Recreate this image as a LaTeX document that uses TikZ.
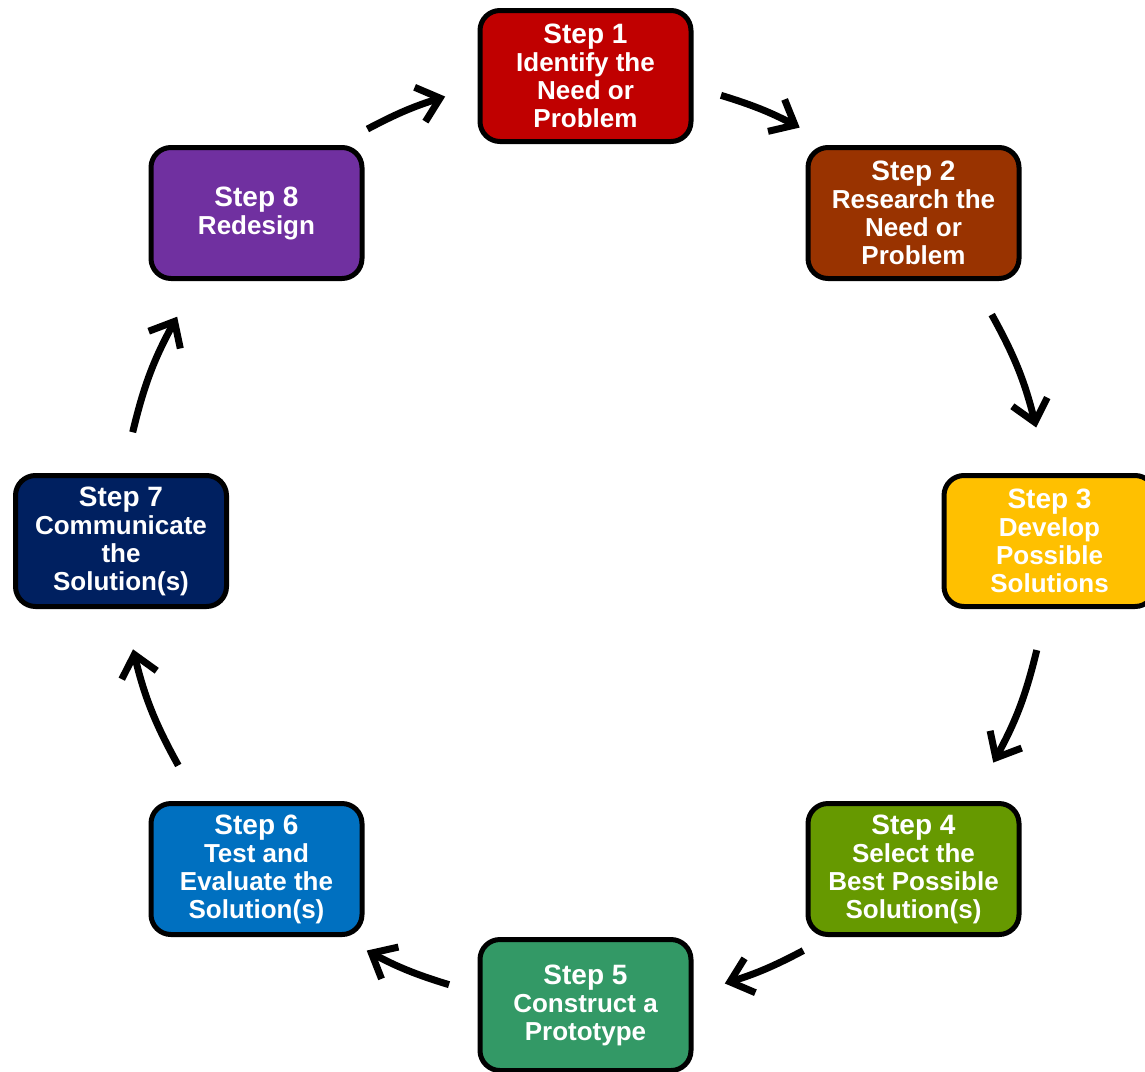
\documentclass[tikz,border=0pt]{standalone}
\usepackage{fontspec}
\setmainfont{Liberation Sans}
\usetikzlibrary{arrows.meta}
\definecolor{cOne}{HTML}{C00000}
\definecolor{cTwo}{HTML}{993300}
\definecolor{cThree}{HTML}{FFC000}
\definecolor{cFour}{HTML}{669900}
\definecolor{cFive}{HTML}{339966}
\definecolor{cSix}{HTML}{0070C0}
\definecolor{cSeven}{HTML}{002060}
\definecolor{cEight}{HTML}{7030A0}
\newcommand{\stephead}[1]{{\fontsize{28}{28}\selectfont #1}}
\tikzset{
  stepbox/.style={draw=black, line width=5pt, rounded corners=20pt,
    minimum width=211pt, minimum height=131pt, text=white, align=center,
    font=\bfseries\fontsize{26}{28}\selectfont, inner sep=0pt},
  cyc/.style={line width=7pt, draw=black,
    -{Straight Barb[length=21pt,width=36pt,line width=7pt]}}
}
\begin{document}
\begin{tikzpicture}[x=1pt,y=1pt]
\useasboundingbox (0,0) rectangle (1145,-1071);
\fill[white] (0,0) rectangle (1145,-1071);
\coordinate (c) at (585,-540);
\node[stepbox, fill=cOne]   (s1) at (585.5,-76) {\stephead{Step 1}\\Identify the\\Need or\\Problem};
\node[stepbox, fill=cTwo]   (s2) at (913.5,-213) {\stephead{Step 2}\\Research the\\Need or\\Problem};
\node[stepbox, fill=cThree] (s3) at (1049.5,-541) {\stephead{Step 3}\\Develop\\Possible\\Solutions};
\node[stepbox, fill=cFour]  (s4) at (913.5,-869) {\stephead{Step 4}\\Select the\\Best Possible\\Solution(s)};
\node[stepbox, fill=cFive]  (s5) at (585.5,-1005) {\stephead{Step 5}\\Construct a\\Prototype};
\node[stepbox, fill=cSix]   (s6) at (256.5,-869) {\stephead{Step 6}\\Test and\\Evaluate the\\Solution(s)};
\node[stepbox, fill=cSeven] (s7) at (121,-541) {\stephead{Step 7}\\Communicate\\the\\Solution(s)};
\node[stepbox, fill=cEight] (s8) at (256.5,-213) {\stephead{Step 8}\\Redesign};
% arrow end points on the circle round (c)
\foreach \n/\a in {aS/73, aE/62.5, bS/29, bE/14, cS/-13.7, cE/-28.6, dS/-62, dE/-72.5,
                   eS/-107, eE/-118, fS/-151, fE/-166.4, gS/166.6, gE/151.3, hS/117.9, hE/107.5}
  \coordinate (\n) at ([shift={(\a:465)}]c);
\draw[cyc] (aS) to[bend left=5.2] (aE);
\draw[cyc] (bS) to[bend left=7.5] (bE);
\draw[cyc] (cS) to[bend left=7.5] (cE);
\draw[cyc] (dS) to[bend left=5.2] (dE);
\draw[cyc] (eS) to[bend left=5.5] (eE);
\draw[cyc] (fS) to[bend left=7.7] (fE);
\draw[cyc] (gS) to[bend left=7.6] (gE);
\draw[cyc] (hS) to[bend left=5.2] (hE);
\end{tikzpicture}
\end{document}
